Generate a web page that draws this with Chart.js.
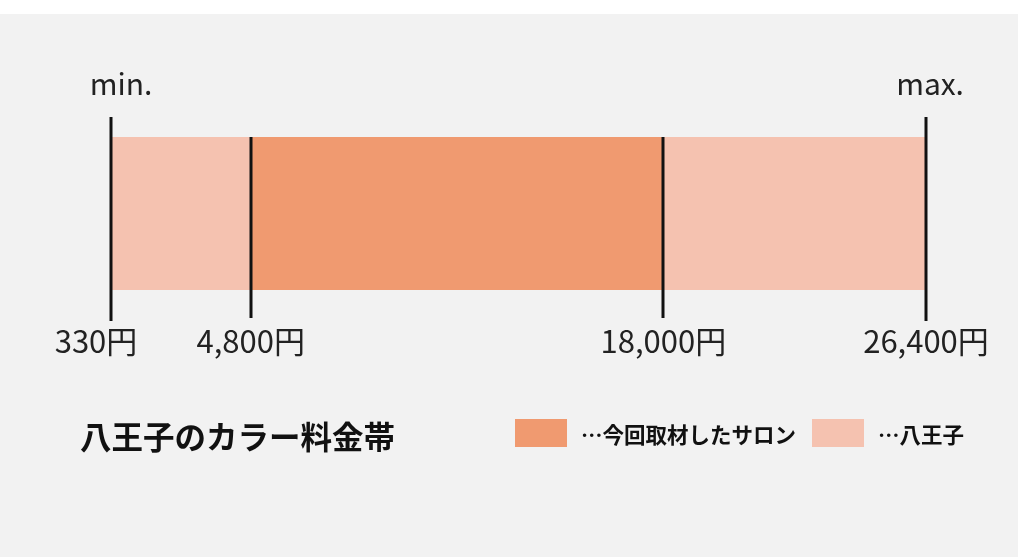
<!DOCTYPE html>
<html>
<head>
<meta charset="utf-8">
<script src="https://cdn.jsdelivr.net/npm/chart.js@4"></script>
<style>
  html, body { margin: 0; padding: 0; background: #ffffff; }
  #wrap { width: 1024px; height: 557px; position: relative; }
</style>
</head>
<body>
<div id="wrap"><canvas id="chart"></canvas></div>
<script>
// data
const categories = ['カラー料金'];
const lowRange = [330, 4800];
const salonRange = [4800, 18000];
const highRange = [18000, 26400];
const markerValues = [330, 4800, 18000, 26400];
const markerLabels = ['330円', '4,800円', '18,000円', '26,400円'];
const endLabels = ['min.', 'max.'];
const title = '八王子のカラー料金帯';
const legendLabels = ['…今回取材したサロン', '…八王子'];

const DARK = '#f09a70';
const LIGHT = '#f5c2b0';
const FONT = '"Noto Sans CJK JP", "Noto Sans", sans-serif';

const decor = {
  id: 'decor',
  beforeDraw(chart) {
    const { ctx } = chart;
    ctx.save();
    ctx.fillStyle = '#f2f2f2';
    ctx.fillRect(0, 14, 1018, chart.height - 14);
    ctx.restore();
  },
  afterDatasetsDraw(chart) {
    const { ctx, chartArea } = chart;
    const x = chart.scales.x;
    const top = chartArea.top, bottom = chartArea.bottom;
    const last = markerValues.length - 1;
    ctx.save();

    // vertical markers
    ctx.strokeStyle = '#111';
    ctx.lineWidth = 3;
    markerValues.forEach((v, i) => {
      const px = Math.round(x.getPixelForValue(v));
      const outer = i === 0 || i === last;
      ctx.beginPath();
      ctx.moveTo(px, outer ? top - 20 : top);
      ctx.lineTo(px, outer ? bottom + 31 : bottom + 28);
      ctx.stroke();
    });

    // price labels
    ctx.fillStyle = '#222';
    ctx.font = '31px ' + FONT;
    ctx.textAlign = 'center';
    ctx.textBaseline = 'alphabetic';
    markerValues.forEach((v, i) => {
      let px = x.getPixelForValue(v);
      if (i === 0) px -= 15;
      ctx.fillText(markerLabels[i], px, bottom + 63);
    });

    // min / max
    ctx.font = '30px ' + FONT;
    ctx.fillText(endLabels[0], x.getPixelForValue(markerValues[0]) + 10, 95);
    ctx.fillText(endLabels[1], x.getPixelForValue(markerValues[last]) + 4, 95);

    // title
    ctx.fillStyle = '#111';
    ctx.textAlign = 'left';
    ctx.font = 'bold 31.5px ' + FONT;
    ctx.fillText(title, 80, 449);

    // legend
    const sw = [[515, DARK], [812, LIGHT]];
    ctx.font = 'bold 21.5px ' + FONT;
    sw.forEach(([lx, c], i) => {
      ctx.fillStyle = c;
      ctx.fillRect(lx, 419, 52, 28);
      ctx.fillStyle = '#111';
      ctx.fillText(legendLabels[i], lx + 66, 443);
    });
    ctx.restore();
  }
};

new Chart(document.getElementById('chart'), {
  type: 'bar',
  data: {
    labels: categories,
    datasets: [
      { label: legendLabels[1], data: [lowRange], backgroundColor: LIGHT },
      { label: legendLabels[0], data: [salonRange], backgroundColor: DARK },
      { label: legendLabels[1], data: [highRange], backgroundColor: LIGHT },
    ],
  },
  options: {
    indexAxis: 'y',
    responsive: true,
    maintainAspectRatio: false,
    animation: false,
    layout: { padding: { left: 111, right: 98, top: 137, bottom: 267 } },
    datasets: { bar: { grouped: false, barPercentage: 1, categoryPercentage: 1, borderWidth: 0 } },
    scales: {
      x: { display: false, min: markerValues[0], max: markerValues[markerValues.length - 1] },
      y: { display: false },
    },
    plugins: { legend: { display: false }, tooltip: { enabled: false } },
  },
  plugins: [decor],
});
</script>
</body>
</html>
